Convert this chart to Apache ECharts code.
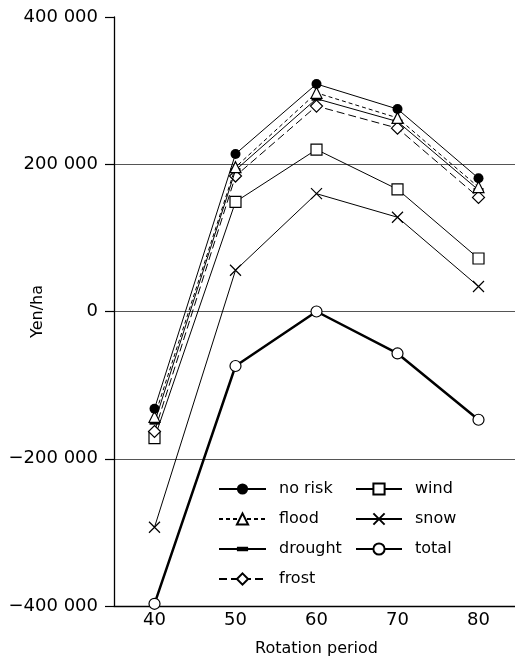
<!DOCTYPE html>
<html>
<head>
<meta charset="utf-8">
<script src="https://cdn.jsdelivr.net/npm/echarts@6/dist/echarts.min.js"></script>
<style>
  html, body { margin: 0; padding: 0; background: #fff; }
  #chart { width: 515px; height: 664px; }
</style>
</head>
<body>
<div id="chart"></div>
<script>
// rotation period (years)
const periods = ['40', '50', '60', '70', '80']
const yTicks = [-400000, -200000, 0, 200000, 400000]

// Yen/ha
const noRisk = [-132000, 214000, 309000, 275000, 181000]
const flood = [-143000, 196000, 297000, 263000, 169000]
const drought = [-151000, 192000, 289000, 258000, 165000]
const frost = [-163000, 184000, 279000, 249000, 155000]
const wind = [-172000, 149000, 220000, 166000, 72000]
const snow = [-293000, 56000, 160000, 128000, 34000]
const total = [-397000, -74000, 0, -57000, -147000]

const FONT = 'DejaVu Sans'
const crossPath = 'path://M0,0L10,10M10,0L0,10'
// flat bar inside a square box, so the legend keeps it flat too
const barPath = 'path://M0,0M10,10M0,3L10,3L10,7L0,7Z'

function yenLabel(v) {
  const s = String(Math.abs(v)).replace(/\B(?=(\d{3})+(?!\d))/g, ' ')
  return (v < 0 ? '\u2212' : '') + s
}

function mkSeries(name, data, opts) {
  return Object.assign({
    name: name,
    type: 'line',
    data: data,
    xAxisIndex: 0,
    showAllSymbol: true,
    symbolKeepAspect: true,
    lineStyle: { color: '#000', width: 1 },
    itemStyle: { color: '#fff', borderColor: '#000', borderWidth: 1.2 },
    emphasis: { disabled: true }
  }, opts)
}

const legendText = { fontFamily: FONT, fontSize: 16, color: '#000', padding: [0, 0, 0, 8] }

const chart = echarts.init(document.getElementById('chart'))
chart.setOption({
  animation: false,
  grid: { left: 114, top: 17, right: -4, bottom: 58, outerBoundsMode: 'none' },
  legend: [
    {
      data: ['no risk', 'flood', 'drought', 'frost'],
      orient: 'vertical',
      left: 213,
      top: 476,
      itemWidth: 47,
      itemHeight: 14,
      itemGap: 14,
      selectedMode: false,
      textStyle: legendText
    },
    {
      data: ['wind', 'snow', 'total'],
      orient: 'vertical',
      left: 350,
      top: 476,
      itemWidth: 46,
      itemHeight: 14,
      itemGap: 14,
      selectedMode: false,
      textStyle: legendText
    }
  ],
  xAxis: [
    {
      type: 'category',
      data: periods,
      position: 'bottom',
      boundaryGap: true,
      name: 'Rotation period',
      nameLocation: 'middle',
      nameGap: 35,
      nameTextStyle: { fontFamily: FONT, fontSize: 16, color: '#000' },
      axisLine: { onZero: false, lineStyle: { color: '#000', width: 1.3 } },
      axisTick: { length: 7, lineStyle: { color: '#000', width: 1.2 } },
      axisLabel: { fontFamily: FONT, fontSize: 18, color: '#000', margin: 5 },
      splitLine: { show: false }
    },
    {
      // inner half of the crossing ticks
      type: 'category',
      data: periods,
      position: 'bottom',
      boundaryGap: true,
      axisLine: { show: false, onZero: false },
      axisTick: { inside: true, length: 7, lineStyle: { color: '#000', width: 1.2 } },
      axisLabel: { show: false },
      splitLine: { show: false }
    }
  ],
  yAxis: {
    type: 'value',
    min: yTicks[0],
    max: yTicks[yTicks.length - 1],
    interval: 200000,
    name: 'Yen/ha',
    nameLocation: 'middle',
    nameGap: 68,
    nameMoveOverlap: false,
    nameTextStyle: { fontFamily: FONT, fontSize: 16, color: '#000' },
    axisLine: { show: true, lineStyle: { color: '#000', width: 1.3 } },
    axisTick: { show: true, length: 9, lineStyle: { color: '#000', width: 1.2 } },
    axisLabel: { fontFamily: FONT, fontSize: 18, color: '#000', margin: 16, formatter: yenLabel },
    splitLine: {
      show: true,
      showMinLine: false,
      showMaxLine: false,
      lineStyle: { color: '#555', width: 1 }
    }
  },
  series: [
    mkSeries('total', total, {
      symbol: 'circle', symbolSize: 11, z: 2,
      lineStyle: { color: '#000', width: 2.5 }
    }),
    mkSeries('snow', snow, {
      symbol: crossPath, symbolSize: 11, z: 3,
      itemStyle: { color: 'transparent', borderColor: '#000', borderWidth: 1.2 }
    }),
    mkSeries('wind', wind, {
      symbol: 'rect', symbolSize: 11, z: 3
    }),
    mkSeries('frost', frost, {
      symbol: 'diamond', symbolSize: 12, z: 4,
      lineStyle: { color: '#000', width: 1, type: [8, 4] }
    }),
    mkSeries('drought', drought, {
      symbol: barPath, symbolSize: 10, z: 5,
      itemStyle: { color: '#000', borderColor: '#000', borderWidth: 0 }
    }),
    mkSeries('flood', flood, {
      symbol: 'triangle', symbolSize: 11, z: 6,
      lineStyle: { color: '#000', width: 1, type: [4, 3] }
    }),
    mkSeries('no risk', noRisk, {
      symbol: 'circle', symbolSize: 10, z: 7,
      itemStyle: { color: '#000', borderColor: '#000', borderWidth: 0 }
    })
  ]
})
</script>
</body>
</html>
